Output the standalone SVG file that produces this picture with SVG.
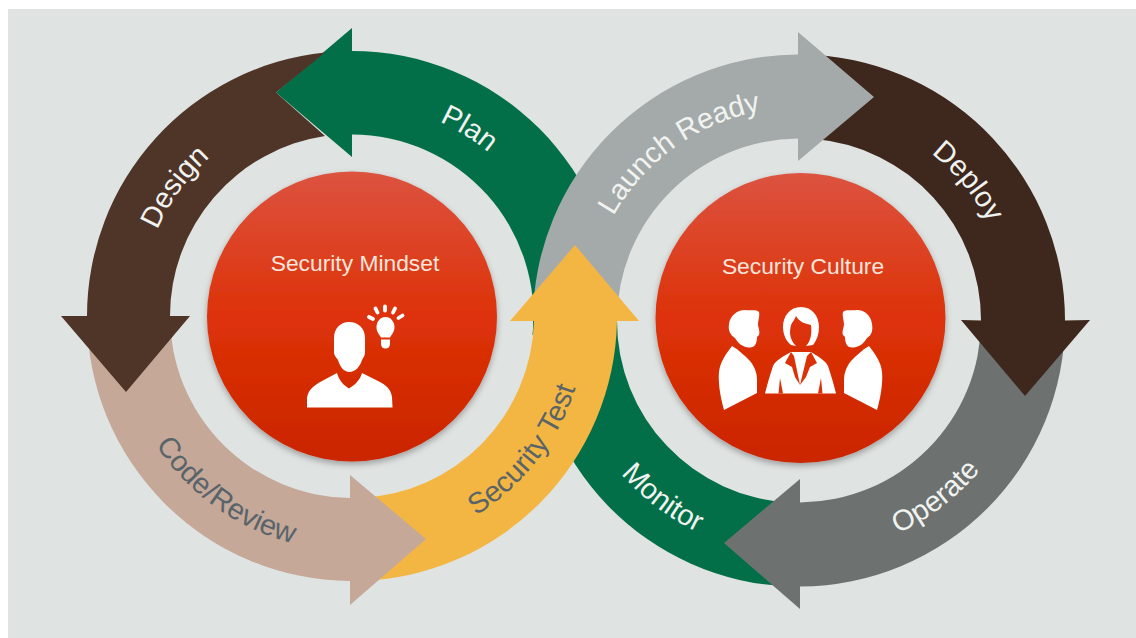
<svg xmlns="http://www.w3.org/2000/svg" width="1136" height="638" viewBox="0 0 1136 638">
<style>
.lbl{font-family:"Liberation Sans",Arial,sans-serif;font-size:29px;text-anchor:middle}
.lt{fill:#f1f3f1}.dk{fill:#59646a}
.ttl{font-family:"Liberation Sans",Arial,sans-serif;font-size:22.8px;text-anchor:middle;fill:#fbe6dc}
.ic{fill:#fff}.cut{fill:#dc3107}
</style>
<defs>
<linearGradient id="red" x1="0" y1="0" x2="0" y2="1"><stop offset="0" stop-color="#dc5340"/><stop offset=".5" stop-color="#dd3208"/><stop offset="1" stop-color="#ca2500"/></linearGradient>
<filter id="sh" x="-10%" y="-10%" width="120%" height="120%"><feDropShadow dx="0" dy="3" stdDeviation="3" flood-color="#000" flood-opacity=".3"/></filter>
<path id="top" d="M-213 0A213 213 0 0 1 213 0"/>
<path id="bot" d="M-235 0A235 235 0 0 0 235 0"/>
</defs>
<rect x="8" y="9" width="1128" height="629" fill="#dfe3e2"/>
<g id="connectors">
<path id="arc-monitor" fill="#036f48" d="M790 586.500A266 266 0 0 1 533 320.500L617 320.500A182 182 0 0 0 790 502.500Z"/>
<path id="arc-operate" fill="#6d7270" d="M1065 320.500A266 266 0 0 1 800 586.500L800 609L724 543L800 479L800 502.500A182 182 0 0 0 981 320.500Z"/>
<path id="arc-deploy" fill="#3e271c" d="M815 55A266 266 0 0 1 1065 320.500L1090 320L1025 396L961 320L981 320.500A182 182 0 0 0 815 139Z"/>
<path id="arc-plan" fill="#036f48" d="M276 92.500L352 28L352 51A265 265 0 0 1 617 316L560 335L532.500 335A181.500 181.500 0 0 0 352 134.500L352 157Z"/>
<path id="arc-launch" fill="#a4aaa9" d="M533 320.500A266 266 0 0 1 798 54.500L798 32L874 97L798 161L798 138.500A182 182 0 0 0 617 320.500Z"/>
<path id="arc-test" fill="#f4b642" d="M360 581A265 265 0 0 0 617 321L639 321L575 245L510 321L534 321A182 182 0 0 1 360 498Z"/>
<path id="arc-code" fill="#c5a898" d="M87 316A265 265 0 0 0 350 581L350 605L426 539L350 475L350 498A182 182 0 0 1 170 316Z"/>
<path id="arc-design" fill="#4f3527" d="M325 52.500A265 265 0 0 0 87 316L61 316L126 392L190 316L170 316A182 182 0 0 1 325 136L276 92.500Z"/>
</g>
<g id="node-design"><g transform="translate(352 316) rotate(-54)"><text class="lbl lt"><textPath href="#top" startOffset="50%">Design</textPath></text></g></g>
<g id="node-plan"><g transform="translate(352 316) rotate(32)"><text class="lbl lt"><textPath href="#top" startOffset="50%">Plan</textPath></text></g></g>
<g id="node-code"><g transform="translate(352 316) rotate(35.700)"><text class="lbl dk"><textPath href="#bot" startOffset="50%">Code/Review</textPath></text></g></g>
<g id="node-test"><g transform="translate(352 316) rotate(-52)"><text class="lbl dk"><textPath href="#bot" startOffset="50%">Security Test</textPath></text></g></g>
<g id="node-launch"><g transform="translate(799 320.500) rotate(-35.500)"><text class="lbl lt"><textPath href="#top" startOffset="50%">Launch Ready</textPath></text></g></g>
<g id="node-deploy"><g transform="translate(799 320.500) rotate(50.500)"><text class="lbl lt"><textPath href="#top" startOffset="50%">Deploy</textPath></text></g></g>
<g id="node-monitor"><g transform="translate(799 320.500) rotate(37.500)"><text class="lbl lt"><textPath href="#bot" startOffset="50%">Monitor</textPath></text></g></g>
<g id="node-operate"><g transform="translate(799 320.500) rotate(-37.700)"><text class="lbl lt"><textPath href="#bot" startOffset="50%">Operate</textPath></text></g></g>
<g id="node-mindset">
<circle cx="352" cy="316.500" r="145" fill="url(#red)" filter="url(#sh)"/>
<text class="ttl" x="355" y="271">Security Mindset</text>
<path class="ic" d="M349 322C341 322 334 328 334 338L334 352C334 356 337 358 338 360C340 367 344 372 349.500 372C355 372 360 367 362 360C363 358 365 356 365 352L365 338C365 328 358 322 349 322Z"/>
<path class="ic" d="M307 407.500L307 398C308 390 313 386 322 381L337 373C339 380 343 385 349 388.500C355 385 360 380 362 373L378 381C386 385 391 389 392 397L392.500 407.500Z"/>
<path class="ic" d="M385.500 317C380 317 376.500 322 376.500 327C376.500 332 379 334 381 337.500L390 337.500C392 334 394.500 332 394.500 327C394.500 322 391 317 385.500 317Z"/>
<path class="ic" d="M381 339.500L390 339.500L390 344C390 347 388 348.500 385.500 348.500C383 348.500 381 347 381 344Z"/>
<g stroke="#fff" stroke-width="3.800" stroke-linecap="round"><path d="M369 317L373 319"/><path d="M375.500 308.500L377.500 312.500"/><path d="M385 306.500L385 310.500"/><path d="M395 308.500L393 312.500"/><path d="M402.500 315.500L398.500 318"/></g>
</g>
<g id="node-culture">
<circle cx="800.500" cy="318" r="145" fill="url(#red)" filter="url(#sh)"/>
<text class="ttl" x="803" y="274">Security Culture</text>
<path class="ic" d="M745 310C750 311 756 309 759 312C760 316 758 320 758 325C759 330 760 332 759 335L757 337C757 343 755 348 749 347.500C742 347 738 343 735 338C730 335 728 330 729 324C730 316 737 310 745 310Z"/>
<path class="ic" d="M732 346C739 350 745 356 750 361C755 367 757 374 757 380L757 393L724 410C720 396 718 382 719 372C720 362 726 354 732 346Z"/>
<path class="ic" d="M857 310C852 311 846 309 843 312C842 316 844 320 844 325C843 330 842 332 843 335L845 337C845 343 847 348 853 347.500C860 347 864 343 867 338C872 335 873 330 872 324C871 316 865 310 857 310Z"/>
<path class="ic" d="M869 346C862 350 856 356 851 361C846 367 844 374 844 380L844 393L877 410C881 396 883 382 882 372C881 362 875 354 869 346Z"/>
<path class="ic" d="M801 307C790 307 783 316 783 327C783 334 786 341 791 345L796 346C790 340 789 333 791 325C793 321 795 319 796 316C799 322 806 324 811 325C812 333 811 341 806 346L813 345C817 340 819 334 819 327C819 316 812 307 801 307Z"/>
<path class="ic" d="M791 352C784 356 776 360 773 366C770 375 767 385 765 393.500L836 393.500C834 385 831 375 828 366C825 360 817 356 811 352Z"/>
<path class="cut" d="M791 352L785 363L792 367L795 377L800 385L794 356ZM811 352L817 363L810 367L806 377L800 385L807 356Z"/>
<path class="cut" d="M780 378L783 393.500L778.500 393.500ZM821 378L818 393.500L822.500 393.500Z"/>
</g>
</svg>
